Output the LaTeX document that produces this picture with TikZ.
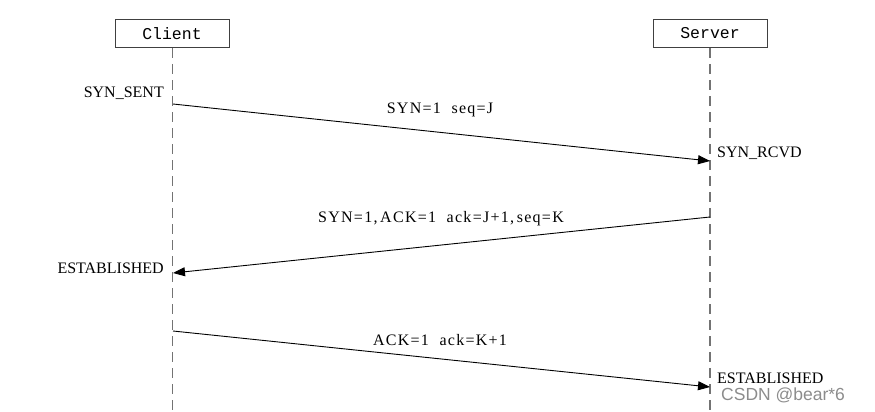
\documentclass[tikz,border=0pt]{standalone}
\usepackage{fontspec}
\setmainfont{Liberation Serif}
\newfontfamily\msgfont[LetterSpace=8]{Liberation Serif}
\newfontfamily\boxfont{Liberation Mono}
\newfontfamily\wmfont{Liberation Sans}
\usetikzlibrary{arrows.meta}
\begin{document}
\begin{tikzpicture}[x=1pt,y=-1pt,
  actor/.style={draw=black!75,line width=1pt,minimum width=114pt,minimum height=28pt,inner sep=0pt,font=\boxfont\fontsize{16.5}{18}\selectfont},
  lifeline/.style={draw=black!55,line width=1.9pt,dash pattern=on 10pt off 6pt},
  msg/.style={draw=black,line width=0.9pt,-{Triangle[length=12pt,width=9pt]}},
  state/.style={inner sep=0pt,font=\fontsize{16}{18}\selectfont},
  lbl/.style={inner sep=0pt,font=\msgfont\fontsize{16}{18}\selectfont},
  wm/.style={inner sep=0pt,text=black!45,font=\wmfont\fontsize{17.5}{20}\selectfont}]
\useasboundingbox (0,0) rectangle (875,412);
\node[actor] (client) at (172,33.5) {Client};
\node[actor] (server) at (710,33.5) {Server};
\coordinate (cend) at (172.5,412);
\coordinate (send) at (710,412);
\draw[lifeline] (client.south -| cend) -- (cend);
\draw[lifeline] (server.south -| send) -- (send);
\coordinate (c1) at (173,104);
\coordinate (s1) at (710,161);
\coordinate (s2) at (710,217);
\coordinate (c2) at (173,273);
\coordinate (c3) at (173,331);
\coordinate (s3) at (710,387);
\draw[msg] (c1) -- (s1);
\draw[msg] (s2) -- (c2);
\draw[msg] (c3) -- (s3);
\node[lbl] (m1) at (440,110) {SYN=1\ \ seq=J};
\node[lbl] (m2) at (441,219) {SYN=1,\,ACK=1\ \ ack=J+1,\,seq=K};
\node[lbl] (m3) at (440,340) {ACK=1\ \ ack=K+1};
\node[state,anchor=east] (st1) at (164,93) {SYN\_SENT};
\node[state,anchor=west] (st2) at (717,153) {SYN\_RCVD};
\node[state,anchor=east] (st3) at (164,268) {ESTABLISHED};
\node[state,anchor=west] (st4) at (717,378) {ESTABLISHED};
\node[wm,anchor=west] (wm) at (721,395) {CSDN @bear*6};
\end{tikzpicture}
\end{document}
